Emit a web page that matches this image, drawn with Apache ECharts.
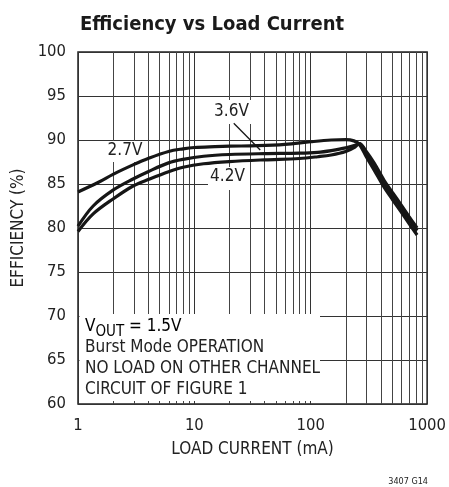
<!DOCTYPE html>
<html>
<head>
<meta charset="utf-8">
<script src="https://cdn.jsdelivr.net/npm/echarts@6/dist/echarts.min.js"></script>
<style>
html,body{margin:0;padding:0;background:#fff;}
#chart{width:449px;height:487px;}
</style>
</head>
<body>
<div id="chart"></div>
<script>
// ---- data ----
const xTicks = [1, 10, 100, 1000];
const yTicks = [60, 65, 70, 75, 80, 85, 90, 95, 100];
const minorX = [2,3,4,5,6,7,8,9,20,30,40,50,60,70,80,90,200,300,400,500,600,700,800,900];

const i27 = [1, 1.5, 2, 3, 4, 6, 8, 10, 15, 20, 35, 60, 100, 150, 200, 235, 262, 300, 350, 428, 500, 600, 700, 820];
const e27 = [84.1, 85.2, 86.1, 87.2, 87.9, 88.7, 89.0, 89.15, 89.25, 89.3, 89.35, 89.5, 89.8, 90.0, 90.05, 89.9, 89.5, 88.1, 86.6, 84.6, 83.3, 81.8, 80.5, 79.2];

const i36 = [1, 1.35, 2, 3, 4, 6, 8, 12, 20, 40, 80, 115, 150, 200, 240, 262, 300, 350, 428, 500, 600, 700, 820];
const e36 = [80.2, 82.5, 84.3, 85.6, 86.4, 87.4, 87.8, 88.15, 88.35, 88.45, 88.5, 88.6, 88.8, 89.1, 89.4, 89.6, 88.5, 87.1, 85.1, 83.8, 82.3, 81.0, 79.7];

const i42 = [1, 1.35, 2, 3, 4, 6, 8, 12, 20, 40, 80, 115, 150, 200, 240, 262, 300, 350, 428, 500, 600, 700, 820];
const e42 = [79.6, 81.6, 83.3, 84.8, 85.5, 86.4, 86.9, 87.3, 87.55, 87.75, 87.9, 88.1, 88.3, 88.7, 89.2, 89.6, 88.7, 87.4, 85.4, 84.1, 82.6, 81.3, 80.0];

const seriesNames = ['2.7V', '3.6V', '4.2V'];
const arrowFrom = [21.8, 91.9];
const arrowTo = [36.8, 88.86];

const noteLines = ['Burst Mode OPERATION', 'NO LOAD ON OTHER CHANNEL', 'CIRCUIT OF FIGURE 1'];

// ---- chart ----
const FONT = "'DejaVu Sans Condensed', 'Liberation Sans Narrow', sans-serif";
const TXT = '#222';
const zip = (a, b) => a.map((v, k) => [v, b[k]]);

const chart = echarts.init(document.getElementById('chart'), null, {renderer: 'canvas'});

const lineStyle = {color: '#161616', width: 3.2};

const option = {
  animation: false,
  backgroundColor: '#fff',
  title: {
    text: 'Efficiency vs Load Current',
    left: 75, top: 10,
    textStyle: {fontFamily: FONT, fontSize: 20, fontWeight: 'bold', color: '#1a1a1a'}
  },
  grid: {left: 78, top: 52, width: 352, height: 352, show: true, borderColor: '#222', borderWidth: 1.5, backgroundColor: 'transparent'},
  xAxis: {
    type: 'log', logBase: 10, min: 1, max: 1000,
    name: 'LOAD CURRENT (mA)', nameLocation: 'middle', nameGap: 37,
    nameTextStyle: {fontFamily: FONT, fontSize: 17, color: TXT},
    axisLine: {show: false}, axisTick: {show: false},
    axisLabel: {fontFamily: FONT, fontSize: 16.5, color: TXT, margin: 13,
      formatter: v => (xTicks.indexOf(Math.round(v)) >= 0 ? String(Math.round(v)) : '')},
    splitLine: {show: true, lineStyle: {color: '#333', width: 1}}
  },
  yAxis: {
    type: 'value', min: 60, max: 100, interval: 5,
    name: 'EFFICIENCY (%)', nameLocation: 'middle', nameGap: 51,
    nameTextStyle: {fontFamily: FONT, fontSize: 17, color: TXT},
    axisLine: {show: false}, axisTick: {show: false},
    axisLabel: {fontFamily: FONT, fontSize: 16.5, color: TXT, margin: 12,
      formatter: v => (yTicks.indexOf(v) >= 0 ? String(v) : '')},
    splitLine: {show: true, lineStyle: {color: '#333', width: 1}}
  },
  graphic: [
    // white label backgrounds
    {type: 'rect', z: 2, shape: {x: 79.5, y: 314, width: 240.5, height: 87}, style: {fill: '#fff'}},
    {type: 'rect', z: 2, shape: {x: 103, y: 141, width: 42, height: 21}, style: {fill: '#fff'}},
    {type: 'rect', z: 2, shape: {x: 212, y: 100, width: 40, height: 24}, style: {fill: '#fff'}},
    {type: 'rect', z: 2, shape: {x: 208, y: 167, width: 42, height: 23}, style: {fill: '#fff'}},
    {type: 'text', z: 4, style: {text: seriesNames[0], x: 125, y: 151, align: 'center', verticalAlign: 'middle', font: '17px ' + FONT, fill: TXT}},
    {type: 'text', z: 4, style: {text: seriesNames[1], x: 231.5, y: 112, align: 'center', verticalAlign: 'middle', font: '17px ' + FONT, fill: TXT}},
    {type: 'text', z: 4, style: {text: seriesNames[2], x: 227.5, y: 176.5, align: 'center', verticalAlign: 'middle', font: '17px ' + FONT, fill: TXT}},
    {type: 'text', z: 4, style: {
      text: '{a|V}{s|OUT}{a| = 1.5V}', x: 85, y: 327, verticalAlign: 'middle',
      rich: {
        a: {fontFamily: FONT, fontSize: 17, color: TXT, lineHeight: 22, verticalAlign: 'middle'},
        s: {fontFamily: FONT, fontSize: 15, color: TXT, lineHeight: 26, verticalAlign: 'bottom'}
      }
    }},
    {type: 'text', z: 4, style: {text: noteLines[0], x: 85, y: 348, verticalAlign: 'middle', font: '17px ' + FONT, fill: TXT}},
    {type: 'text', z: 4, style: {text: noteLines[1], x: 85, y: 369, verticalAlign: 'middle', font: '17px ' + FONT, fill: TXT}},
    {type: 'text', z: 4, style: {text: noteLines[2], x: 85, y: 390, verticalAlign: 'middle', font: '17px ' + FONT, fill: TXT}},
    {type: 'text', z: 4, style: {text: '3407 G14', x: 428, y: 481.5, align: 'right', verticalAlign: 'middle', font: '9px ' + FONT, fill: TXT}}
  ],
  series: [
    {
      type: 'custom', z: 1, silent: true,
      data: minorX.map(v => [v, 60]),
      encode: {x: 0, y: 1},
      renderItem: (params, api) => {
        const p0 = api.coord([api.value(0), 60]);
        const p1 = api.coord([api.value(0), 100]);
        const x = Math.round(p0[0]) + 0.5;
        return {type: 'line', shape: {x1: x, y1: p0[1], x2: x, y2: p1[1]}, style: {stroke: '#444', lineWidth: 1}};
      }
    },
    {name: seriesNames[0], type: 'line', z: 3, data: zip(i27, e27), showSymbol: false, smooth: 0.35, lineStyle: lineStyle, silent: true},
    {name: seriesNames[1], type: 'line', z: 3, data: zip(i36, e36), showSymbol: false, smooth: 0.35, lineStyle: lineStyle, silent: true,
      markLine: {
        silent: true, symbol: ['none', 'arrow'], symbolSize: [0, 9],
        label: {show: false},
        lineStyle: {color: '#161616', width: 1.3, type: 'solid'},
        data: [[{coord: arrowFrom}, {coord: arrowTo}]]
      }
    },
    {name: seriesNames[2], type: 'line', z: 3, data: zip(i42, e42), showSymbol: false, smooth: 0.35, lineStyle: lineStyle, silent: true}
  ]
};
chart.setOption(option);
</script>
</body>
</html>
